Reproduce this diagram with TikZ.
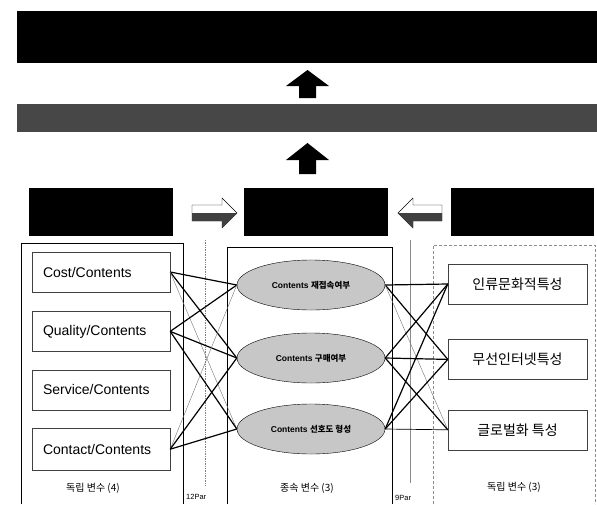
\documentclass[tikz,border=0pt]{standalone}
\usepackage{fontspec}
\setmainfont{Liberation Sans}
\newfontfamily\kr{Noto Sans CJK KR}
\usetikzlibrary{shapes,positioning}

\begin{document}
\begin{tikzpicture}[
    x=1pt, y=-1pt,
    bar/.style={rectangle, fill=black, draw=black, inner sep=0pt},
    ivbox/.style={rectangle, draw=black!75, minimum height=40pt, inner sep=0pt, inner xsep=11pt, text width=116pt, align=left, font=\fontsize{14}{16}\selectfont},
    krbox/.style={rectangle, draw=black!75, minimum width=139pt, minimum height=40pt, inner sep=0pt, align=center, font=\kr\fontsize{14}{16}\selectfont},
    dvnode/.style={ellipse, draw, fill=black!22, minimum width=148pt, minimum height=50pt, inner sep=0pt, font=\fontsize{8.5}{10}\selectfont\bfseries},
    caption/.style={font=\kr\fontsize{10}{12}\selectfont},
    parlab/.style={anchor=west, inner sep=0pt, font=\fontsize{7.5}{9}\selectfont},
    strong/.style={line width=1.2pt},
    weak/.style={line width=0.4pt, black!55}
]
\useasboundingbox (0,0) rectangle (597,504);

    % upper bars
    \node[bar, minimum width=580pt, minimum height=51pt] (goal) at (307,36.5) {};
    \node[bar, fill=black!72, draw=black!72, minimum width=580pt, minimum height=27pt] (intent) at (307,117.5) {};
    \fill (307.5,70) -- (329,86) -- (316,86) -- (316,98) -- (299,98) -- (299,86) -- (286,86) -- cycle;
    \fill (307.5,143) -- (329,160) -- (316,160) -- (316,174) -- (299,174) -- (299,160) -- (286,160) -- cycle;

    % factor boxes
    \node[bar, minimum width=143pt, minimum height=47pt] (factor) at (100.5,211.5) {};
    \node[bar, minimum width=143pt, minimum height=47pt, right=72pt of factor] (usage) {};
    \node[bar, minimum width=142pt, minimum height=47pt, right=63pt of usage] (trait) {};
    \draw[fill=white] (192,205) -- (222,205) -- (222,198) -- (237,213) -- (222,228) -- (222,221) -- (192,221) -- cycle;
    \fill[black!75] (192,213) -- (237,213) -- (222,228) -- (222,221) -- (192,221) -- cycle;
    \draw[fill=white] (442,205) -- (413,205) -- (413,198) -- (398,213) -- (413,228) -- (413,221) -- (442,221) -- cycle;
    \fill[black!75] (442,213) -- (398,213) -- (413,228) -- (413,221) -- (442,221) -- cycle;

    % frames
    \draw[black!50, densely dotted, line width=0.7pt] (205,240) -- (205,485);
    \draw[black!45, line width=0.6pt] (410,240) -- (410,483);
    \draw[line width=0.8pt] (21,504) |- (183,243) -- (183,504);
    \draw[line width=0.8pt] (227,504) |- (392,247) -- (392,504);
    \draw[black!45, densely dashed] (433,504) |- (595,245) -- (595,504);

    % independent variables
    \node[ivbox] (cost) at (101,272) {Cost/Contents};
    \node[ivbox, below=19pt of cost] (quality) {Quality/Contents};
    \node[ivbox, below=18pt of quality] (service) {Service/Contents};
    \node[ivbox, below=18pt of service, minimum height=42pt] (contact) {Contact/Contents};

    % dependent variables
    \node[dvnode] (revisit) at (311,285) {Contents {\kr 재접속여부}};
    \node[dvnode] (buy) at (311,358) {Contents {\kr 구매여부}};
    \node[dvnode] (pref) at (311,429) {Contents {\kr 선호도 형성}};

    % traits
    \node[krbox] (human) at (517.5,284) {인류문화적특성};
    \node[krbox, below=35pt of human] (wireless) {무선인터넷특성};
    \node[krbox, below=30pt of wireless] (global) {글로벌화 특성};

    % captions
    \node[caption] (capiv) at (93,488) {독립 변수 (4)};
    \node[caption] (capdv) at (307,488) {종속 변수 (3)};
    \node[caption] (captr) at (514,487) {독립 변수 (3)};
    \node[parlab] (par12) at (186,497) {12Par};
    \node[parlab] (par9) at (395,498) {9Par};

    % paths left
    \draw[strong] (cost.east) -- (revisit.west);
    \draw[strong] (cost.east) -- (buy.west);
    \draw[weak] (cost.east) -- (pref.west);
    \draw[strong] (quality.east) -- (revisit.west);
    \draw[strong] (quality.east) -- (buy.west);
    \draw[strong] (quality.east) -- (pref.west);
    \draw[weak] (contact.east) -- (revisit.west);
    \draw[strong] (contact.east) -- (buy.west);
    \draw[strong] (contact.east) -- (pref.west);

    % paths right
    \draw[strong] (revisit.east) -- (human.west);
    \draw[strong] (revisit.east) -- (wireless.west);
    \draw[weak] (revisit.east) -- (global.west);
    \draw[strong] (buy.east) -- (human.west);
    \draw[strong] (buy.east) -- (wireless.west);
    \draw[strong] (buy.east) -- (global.west);
    \draw[strong] (pref.east) -- (human.west);
    \draw[strong] (pref.east) -- (wireless.west);
    \draw[line width=0.7pt] (pref.east) -- (global.west);
\end{tikzpicture}
\end{document}
